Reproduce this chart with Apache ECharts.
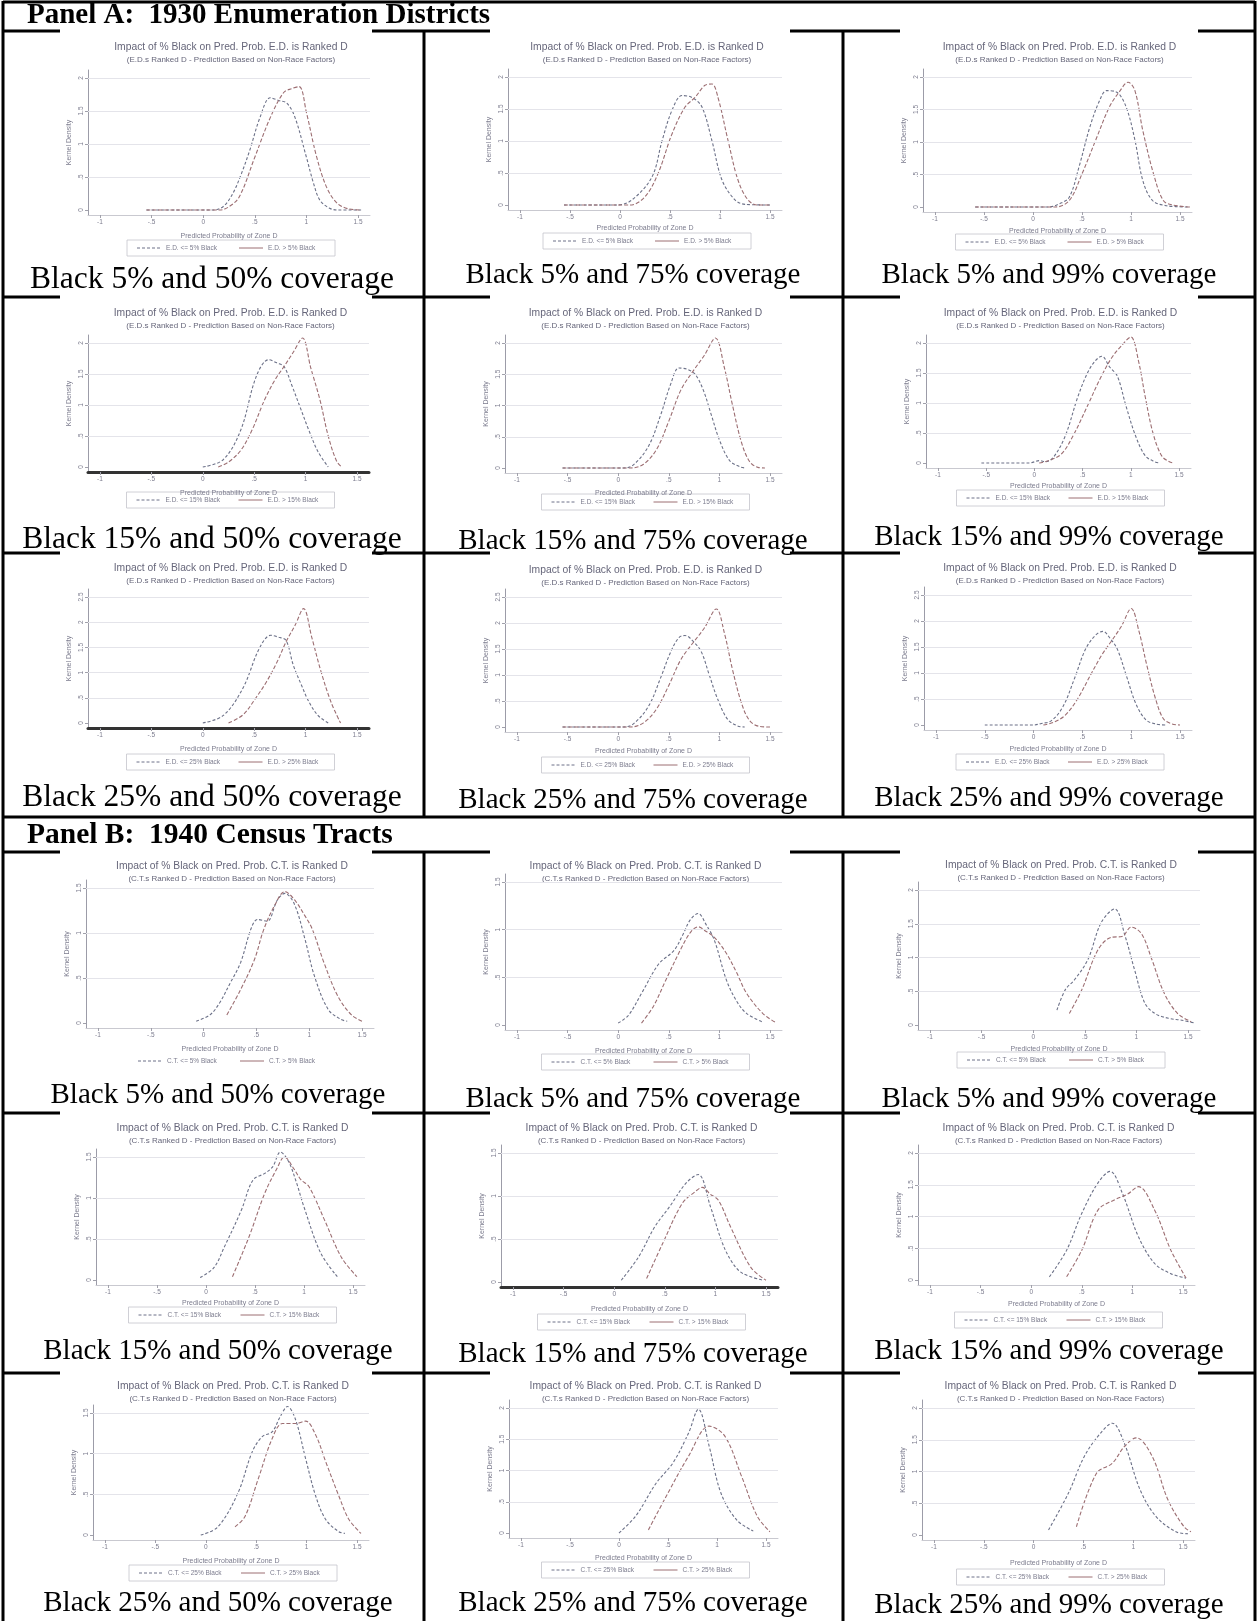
<!DOCTYPE html>
<html><head><meta charset="utf-8">
<script src="https://cdn.jsdelivr.net/npm/echarts@6/dist/echarts.min.js"></script>
<style>html,body{margin:0;padding:0;background:#fff}#c{width:1257px;height:1621px}</style>
</head><body><div id="c"></div><script>
// ---------- text / category data ----------
const panelHeaders = ['Panel A:  1930 Enumeration Districts', 'Panel B:  1940 Census Tracts'];
const blackShares = ['5%', '15%', '25%'];
const coverages = ['50%', '75%', '99%'];
const unitNames = ['E.D.', 'C.T.'];
const plotTitles = ['Impact of % Black on Pred. Prob. E.D. is Ranked D', 'Impact of % Black on Pred. Prob. C.T. is Ranked D'];
const plotSubtitles = ['(E.D.s Ranked D - Prediction Based on Non-Race Factors)', '(C.T.s Ranked D - Prediction Based on Non-Race Factors)'];
const xAxisTitle = 'Predicted Probability of Zone D';
const yAxisTitle = 'Kernel Density';
const xTickVals = [-1, -0.5, 0, 0.5, 1, 1.5];
const xTickText = ['-1', '-.5', '0', '.5', '1', '1.5'];
// top labelled y value of each plot (row-major, Panel A then Panel B)
const yTopVals = [2, 2, 2, 2, 2, 2, 2.5, 2.5, 2.5, 1.5, 1.5, 2, 1.5, 1.5, 2, 1.5, 2, 2];

// ---------- series data: [predicted probability, kernel density] ----------
// Panel A, "<= x% Black"
const lowA = [
 [[-0.55,0],[0.1,0],[0.2,0.06],[0.29,0.26],[0.37,0.55],[0.45,0.9],[0.55,1.4],[0.65,1.7],[0.73,1.66],[0.81,1.62],[0.89,1.4],[1.0,0.8],[1.07,0.4],[1.13,0.15],[1.22,0.03],[1.3,0],[1.53,0]],
 [[-0.56,0],[-0.03,0],[0.12,0.08],[0.32,0.44],[0.42,1.0],[0.52,1.48],[0.62,1.71],[0.72,1.68],[0.82,1.53],[0.92,1.0],[1.02,0.39],[1.15,0.08],[1.25,0.01],[1.5,0]],
 [[-0.59,0],[0.16,0],[0.27,0.05],[0.37,0.15],[0.47,0.62],[0.58,1.23],[0.68,1.64],[0.75,1.79],[0.85,1.77],[0.95,1.54],[1.04,1.03],[1.12,0.41],[1.22,0.1],[1.36,0.02],[1.6,0]],
 [[0,0],[0.2,0.12],[0.37,0.6],[0.52,1.46],[0.64,1.73],[0.72,1.68],[0.79,1.62],[0.87,1.3],[0.95,0.95],[1.03,0.6],[1.12,0.25],[1.22,0]],
 [[-0.55,0],[0.05,0],[0.15,0.05],[0.3,0.35],[0.42,0.85],[0.52,1.35],[0.6,1.6],[0.68,1.58],[0.76,1.5],[0.84,1.25],[0.92,0.85],[1.0,0.45],[1.1,0.12],[1.2,0.02],[1.25,0]],
 [[-0.55,0],[-0.05,0],[0.05,0.04],[0.12,0.02],[0.2,0.1],[0.32,0.45],[0.45,1.1],[0.55,1.5],[0.63,1.7],[0.7,1.78],[0.78,1.6],[0.86,1.45],[0.95,0.95],[1.05,0.45],[1.15,0.12],[1.25,0.02],[1.3,0]],
 [[0,0],[0.2,0.15],[0.39,0.69],[0.55,1.48],[0.66,1.74],[0.74,1.7],[0.81,1.64],[0.88,1.15],[0.96,0.75],[1.03,0.43],[1.12,0.15],[1.22,0]],
 [[-0.55,0],[0.05,0],[0.15,0.06],[0.3,0.4],[0.42,0.95],[0.52,1.45],[0.6,1.72],[0.66,1.76],[0.74,1.65],[0.82,1.45],[0.9,1.0],[0.98,0.55],[1.08,0.15],[1.18,0.02],[1.25,0]],
 [[-0.5,0],[0.0,0],[0.08,0.03],[0.18,0.08],[0.3,0.35],[0.42,0.9],[0.53,1.45],[0.63,1.72],[0.71,1.8],[0.79,1.65],[0.86,1.45],[0.95,0.95],[1.05,0.4],[1.15,0.1],[1.25,0.02],[1.35,0]]
];
// Panel A, "> x% Black"
const highA = [
 [[-0.55,0],[0.16,0],[0.25,0.05],[0.35,0.2],[0.5,0.8],[0.65,1.4],[0.78,1.78],[0.86,1.84],[0.93,1.87],[1.0,1.48],[1.1,0.8],[1.2,0.33],[1.3,0.1],[1.4,0.02],[1.53,0]],
 [[-0.56,0],[0.1,0],[0.25,0.13],[0.38,0.49],[0.52,1.11],[0.65,1.53],[0.75,1.68],[0.85,1.87],[0.92,1.89],[0.98,1.68],[1.08,1.01],[1.18,0.39],[1.28,0.08],[1.38,0],[1.5,0]],
 [[-0.59,0],[0.23,0],[0.37,0.1],[0.5,0.51],[0.64,1.03],[0.78,1.54],[0.88,1.77],[0.97,1.92],[1.04,1.79],[1.12,1.18],[1.23,0.51],[1.33,0.1],[1.43,0.03],[1.6,0]],
 [[0.15,0],[0.25,0.08],[0.37,0.27],[0.48,0.6],[0.6,1.08],[0.7,1.4],[0.79,1.62],[0.88,1.85],[0.97,2.08],[1.05,1.6],[1.14,1.08],[1.22,0.5],[1.3,0.1],[1.35,0]],
 [[-0.55,0],[0.12,0],[0.25,0.06],[0.38,0.3],[0.5,0.75],[0.62,1.25],[0.74,1.55],[0.85,1.8],[0.96,2.08],[1.05,1.6],[1.13,1.0],[1.22,0.4],[1.3,0.1],[1.38,0.01],[1.45,0]],
 [[0.05,0],[0.15,0.04],[0.28,0.15],[0.4,0.45],[0.55,0.95],[0.68,1.4],[0.8,1.75],[0.9,1.95],[1.0,2.1],[1.08,1.7],[1.15,1.1],[1.23,0.5],[1.32,0.12],[1.4,0.02],[1.45,0]],
 [[0.25,0],[0.39,0.16],[0.5,0.45],[0.62,0.82],[0.72,1.2],[0.81,1.61],[0.9,1.95],[0.98,2.27],[1.06,1.7],[1.15,1.02],[1.25,0.4],[1.34,0]],
 [[-0.55,0],[0.12,0],[0.25,0.08],[0.38,0.35],[0.5,0.8],[0.62,1.3],[0.74,1.62],[0.85,1.9],[0.97,2.27],[1.05,1.8],[1.13,1.1],[1.22,0.45],[1.3,0.12],[1.4,0.01],[1.5,0]],
 [[0.1,0],[0.2,0.05],[0.32,0.18],[0.45,0.5],[0.58,0.95],[0.7,1.35],[0.8,1.62],[0.9,1.9],[1.0,2.24],[1.08,1.8],[1.16,1.15],[1.25,0.5],[1.33,0.12],[1.42,0.02],[1.5,0]]
];
// Panel B, "<= x% Black"
const lowB = [
 [[-0.07,0.02],[0.06,0.09],[0.15,0.22],[0.25,0.44],[0.35,0.67],[0.45,1.05],[0.51,1.15],[0.6,1.13],[0.7,1.37],[0.77,1.44],[0.86,1.32],[0.96,0.93],[1.05,0.52],[1.18,0.15],[1.3,0.04],[1.36,0.02]],
 [[0,0.02],[0.1,0.1],[0.23,0.33],[0.4,0.64],[0.55,0.78],[0.64,0.95],[0.71,1.1],[0.79,1.17],[0.87,1.05],[0.95,0.89],[1.07,0.47],[1.17,0.25],[1.27,0.12],[1.43,0.03]],
 [[0.23,0.22],[0.31,0.52],[0.4,0.67],[0.53,0.97],[0.66,1.52],[0.79,1.72],[0.89,1.32],[0.98,0.83],[1.08,0.33],[1.18,0.17],[1.31,0.1],[1.44,0.07],[1.56,0.03]],
 [[-0.06,0.03],[0.08,0.15],[0.19,0.41],[0.36,0.85],[0.48,1.22],[0.6,1.3],[0.68,1.38],[0.76,1.56],[0.84,1.45],[0.92,1.2],[1.0,0.89],[1.17,0.33],[1.34,0.04]],
 [[0.07,0.02],[0.24,0.29],[0.4,0.64],[0.55,0.88],[0.71,1.15],[0.83,1.25],[0.95,0.88],[1.07,0.45],[1.17,0.22],[1.27,0.1],[1.47,0.02]],
 [[0.18,0.05],[0.35,0.47],[0.5,1.05],[0.66,1.53],[0.78,1.71],[0.9,1.37],[1.06,0.68],[1.22,0.26],[1.38,0.1],[1.53,0.03]],
 [[-0.05,0],[0.12,0.1],[0.32,0.52],[0.46,1.02],[0.56,1.21],[0.66,1.27],[0.74,1.46],[0.81,1.58],[0.89,1.42],[0.99,0.94],[1.09,0.48],[1.19,0.19],[1.32,0.04],[1.38,0.02]],
 [[0,0],[0.17,0.27],[0.38,0.8],[0.55,1.12],[0.71,1.6],[0.81,1.98],[0.92,1.39],[1.04,0.64],[1.2,0.21],[1.37,0.03]],
 [[0.15,0.08],[0.35,0.66],[0.51,1.24],[0.67,1.6],[0.79,1.76],[0.91,1.45],[1.07,0.71],[1.23,0.29],[1.43,0.05],[1.55,0.02]]
];
// Panel B, "> x% Black"
const highB = [
 [[0.22,0.09],[0.35,0.37],[0.48,0.7],[0.57,1.04],[0.67,1.3],[0.77,1.46],[0.86,1.37],[0.96,1.19],[1.03,1.04],[1.14,0.67],[1.27,0.3],[1.4,0.09],[1.5,0.02]],
 [[0.23,0.02],[0.35,0.2],[0.47,0.47],[0.63,0.82],[0.72,0.98],[0.79,1.03],[0.87,0.98],[0.95,0.92],[1.07,0.75],[1.17,0.55],[1.27,0.33],[1.43,0.12],[1.55,0.03]],
 [[0.35,0.17],[0.47,0.52],[0.63,1.12],[0.76,1.3],[0.86,1.31],[0.95,1.45],[1.05,1.35],[1.15,0.97],[1.27,0.47],[1.4,0.17],[1.53,0.05]],
 [[0.27,0.04],[0.44,0.53],[0.6,1.06],[0.72,1.35],[0.8,1.5],[0.9,1.35],[0.97,1.22],[1.05,1.14],[1.21,0.73],[1.38,0.28],[1.54,0.04]],
 [[0.32,0.04],[0.48,0.45],[0.67,0.91],[0.8,1.05],[0.87,1.1],[0.95,1.02],[1.03,0.95],[1.15,0.64],[1.35,0.17],[1.5,0.02]],
 [[0.35,0.05],[0.5,0.47],[0.66,1.1],[0.82,1.26],[0.95,1.35],[1.06,1.47],[1.22,1.1],[1.38,0.47],[1.53,0.03]],
 [[0.29,0.1],[0.39,0.23],[0.52,0.69],[0.66,1.19],[0.76,1.37],[0.89,1.37],[0.99,1.4],[1.09,1.23],[1.19,0.9],[1.32,0.48],[1.42,0.19],[1.54,0.02]],
 [[0.3,0.05],[0.5,0.64],[0.71,1.23],[0.92,1.71],[1.08,1.55],[1.25,0.91],[1.41,0.27],[1.54,0.02]],
 [[0.43,0.13],[0.63,0.97],[0.79,1.13],[0.91,1.39],[1.03,1.53],[1.19,1.24],[1.35,0.55],[1.51,0.13],[1.58,0.05]]
];

// ---------- layout (pixel positions only) ----------
const cellLayout = [
 {xm1:100,x15:358,yTop:78,y0:210,tY:47,xlY:225,legY:248,capY:280},
 {xm1:520,x15:770,yTop:77,y0:205,tY:47,xlY:217,legY:241,capY:275},
 {xm1:935,x15:1180,yTop:77,y0:207,tY:47,xlY:220,legY:242,capY:275},
 {xm1:100,x15:357,yTop:343,y0:467,tY:313,xlY:482,legY:500,capY:540},
 {xm1:517,x15:770,yTop:343,y0:468,tY:313,xlY:482,legY:502,capY:541},
 {xm1:938,x15:1179,yTop:343,y0:463,tY:313,xlY:475,legY:498,capY:537},
 {xm1:100,x15:357,yTop:597,y0:723,tY:568,xlY:738,legY:762,capY:798},
 {xm1:517,x15:770,yTop:597,y0:727,tY:570,xlY:740,legY:765,capY:800},
 {xm1:936,x15:1180,yTop:595,y0:725,tY:568,xlY:738,legY:762,capY:798},
 {xm1:98,x15:362,yTop:888,y0:1023,tY:866,xlY:1038,legY:1061,capY:1095},
 {xm1:517,x15:770,yTop:882,y0:1025,tY:866,xlY:1040,legY:1062,capY:1099},
 {xm1:930,x15:1188,yTop:890,y0:1025,tY:865,xlY:1038,legY:1060,capY:1099},
 {xm1:108,x15:353,yTop:1157,y0:1280,tY:1128,xlY:1292,legY:1315,capY:1351},
 {xm1:513,x15:766,yTop:1153,y0:1282,tY:1128,xlY:1298,legY:1322,capY:1354},
 {xm1:930,x15:1183,yTop:1153,y0:1280,tY:1128,xlY:1293,legY:1320,capY:1351},
 {xm1:105,x15:357,yTop:1413,y0:1535,tY:1386,xlY:1550,legY:1573,capY:1603},
 {xm1:521,x15:766,yTop:1408,y0:1533,tY:1386,xlY:1547,legY:1570,capY:1603},
 {xm1:934,x15:1183,yTop:1408,y0:1535,tY:1386,xlY:1552,legY:1577,capY:1605}
];
const darkXAxis = [3, 6, 13];
const noLegendBox = [9];
const colCentersA = [212, 633, 1049];
const colCentersB = [218, 633, 1049];
const captionSizeA = [31.5, 29, 29];
const colGaps = [[60, 372], [490, 790], [900, 1198]];

const C_LOW = '#6c7188', C_HIGH = '#9c6e72', C_TXT = '#7c7c8e', C_TITLE = '#66667a';
const SERIF = '"Liberation Serif","Times New Roman",serif';
const SANS = '"Liberation Sans",Arial,sans-serif';

const fmt = v => { let s = String(+(+v).toFixed(2)); return s.replace(/^0\./, '.').replace(/^-0\./, '-.'); };

const grids = [], xAxes = [], yAxes = [], series = [], graphic = [];

cellLayout.forEach((L, i) => {
  const p = i < 9 ? 0 : 1;
  const k = i % 9, r = Math.floor(k / 3), c = k % 3;
  const V = yTopVals[i];
  const yVals = []; for (let j = 0; j * 0.5 <= V + 1e-9; j++) yVals.push(j * 0.5);
  const padT = 8, padB = 5;
  const s = (L.y0 - L.yTop) / V;
  const gTop = L.yTop - padT, gBot = L.y0 + padB;
  const sx = (L.x15 - L.xm1) / 2.5;
  const gl = L.xm1 - 12, gr = L.x15 + 12;
  const dark = darkXAxis.includes(i);
  grids.push({left: gl, top: gTop, width: gr - gl, height: gBot - gTop, containLabel: false});
  xAxes.push({
    gridIndex: i, type: 'value', min: -1 - 12 / sx, max: 1.5 + 12 / sx,
    axisLine: {show: true, onZero: false, lineStyle: {color: dark ? '#333' : '#c9c9d0', width: dark ? 3 : 1}},
    axisTick: {show: true, customValues: xTickVals, length: 3, lineStyle: {color: '#a0a0aa'}},
    axisLabel: {customValues: xTickVals, formatter: v => xTickText[xTickVals.indexOf(+(+v).toFixed(2))] ?? fmt(v),
      fontSize: 6.5, color: C_TXT, margin: 4, fontFamily: SANS},
    splitLine: {show: false},
    name: xAxisTitle, nameLocation: 'middle', nameGap: L.xlY + 8 - gBot,
    nameTextStyle: {fontSize: 7, color: C_TXT, fontFamily: SANS}
  });
  yAxes.push({
    gridIndex: i, type: 'value', min: -padB / s, max: V + padT / s,
    axisLine: {show: true, onZero: false, lineStyle: {color: '#9c9ca8', width: 1}},
    axisTick: {show: true, customValues: yVals, length: 3, lineStyle: {color: '#a0a0aa'}},
    axisLabel: {customValues: yVals, formatter: v => fmt(v), rotate: 90, fontSize: 6.5, color: C_TXT, margin: 3, fontFamily: SANS},
    splitLine: {show: false},
    name: yAxisTitle, nameLocation: 'middle', nameGap: 15, nameRotate: 90,
    nameTextStyle: {fontSize: 7, color: C_TXT, fontFamily: SANS}
  });
  const low = p === 0 ? lowA[k] : lowB[k];
  const high = p === 0 ? highA[k] : highB[k];
  const nameLow = `${unitNames[p]} <= ${blackShares[r]} Black`;
  const nameHigh = `${unitNames[p]} > ${blackShares[r]} Black`;
  series.push({
    type: 'line', name: nameLow, xAxisIndex: i, yAxisIndex: i, data: low, showSymbol: false,
    smooth: 0.35, animation: false, z: 3,
    lineStyle: {color: C_LOW, width: 1.1, type: [3, 2]},
    markLine: {silent: true, symbol: 'none', animation: false, label: {show: false},
      lineStyle: {color: '#e4e4ea', type: 'solid', width: 1},
      data: yVals.filter(v => v > 0).map(v => ({yAxis: v}))}
  });
  series.push({
    type: 'line', name: nameHigh, xAxisIndex: i, yAxisIndex: i, data: high, showSymbol: false,
    smooth: 0.35, animation: false, z: 4,
    lineStyle: {color: C_HIGH, width: 1.1, type: [4, 2]}
  });
  const cx = (gl + gr) / 2 + 2;
  graphic.push({type: 'text', x: cx, y: L.tY, style: {text: plotTitles[p], font: `10.3px ${SANS}`, fill: C_TITLE, align: 'center', verticalAlign: 'middle'}});
  graphic.push({type: 'text', x: cx, y: L.tY + 13, style: {text: plotSubtitles[p], font: `8px ${SANS}`, fill: C_TITLE, align: 'center', verticalAlign: 'middle'}});
  const lw = 208, lh = 16, lx = cx - lw / 2, ly = L.legY - lh / 2;
  graphic.push({type: 'group', x: lx, y: ly, children: [
    {type: 'rect', shape: {x: 0, y: 0, width: lw, height: lh}, style: {fill: '#fff', stroke: noLegendBox.includes(i) ? null : '#c4c4cc', lineWidth: 0.8}},
    {type: 'line', shape: {x1: 10, y1: lh / 2, x2: 34, y2: lh / 2}, style: {stroke: C_LOW, lineWidth: 1, lineDash: [3, 2]}},
    {type: 'text', x: 39, y: lh / 2, style: {text: nameLow, font: `6.5px ${SANS}`, fill: C_TXT, verticalAlign: 'middle'}},
    {type: 'line', shape: {x1: 112, y1: lh / 2, x2: 136, y2: lh / 2}, style: {stroke: C_HIGH, lineWidth: 1}},
    {type: 'text', x: 141, y: lh / 2, style: {text: nameHigh, font: `6.5px ${SANS}`, fill: C_TXT, verticalAlign: 'middle'}}
  ]});
  const capX = p === 0 ? colCentersA[c] : colCentersB[c];
  const capSize = p === 0 ? captionSizeA[c] : 29;
  graphic.push({type: 'text', x: capX, y: L.capY, style: {text: `Black ${blackShares[r]} and ${coverages[c]} coverage`, font: `${capSize}px ${SERIF}`, fill: '#000', align: 'center', verticalAlign: 'middle'}});
});

// ---------- table rules ----------
const BW = 3;
const hline = (y, x1, x2) => graphic.push({type: 'line', shape: {x1, y1: y, x2, y2: y}, style: {stroke: '#000', lineWidth: BW}, z: 1});
const vline = (x, y1, y2) => graphic.push({type: 'line', shape: {x1: x, y1, x2: x, y2}, style: {stroke: '#000', lineWidth: BW}, z: 1});
const L0 = 3, R0 = 1255;
hline(2, L0, R0); hline(817, L0, R0);
[31, 297, 553, 852, 1113, 1373].forEach(y => {
  let x = L0;
  colGaps.forEach(g => { hline(y, x, g[0]); x = g[1]; });
  hline(y, x, R0);
});
vline(L0, 1, 1621); vline(R0, 1, 1621);
[424, 843].forEach(x => { vline(x, 31, 817); vline(x, 852, 1621); });
graphic.push({type: 'text', x: 27, y: 16, style: {text: panelHeaders[0], font: `bold 29px ${SERIF}`, fill: '#000', verticalAlign: 'middle'}});
graphic.push({type: 'text', x: 27, y: 835, style: {text: panelHeaders[1], font: `bold 29.5px ${SERIF}`, fill: '#000', verticalAlign: 'middle'}});

const chart = echarts.init(document.getElementById('c'), null, {renderer: 'canvas'});
chart.setOption({animation: false, backgroundColor: '#fff', grid: grids, xAxis: xAxes, yAxis: yAxes, series, graphic});
</script></body></html>
